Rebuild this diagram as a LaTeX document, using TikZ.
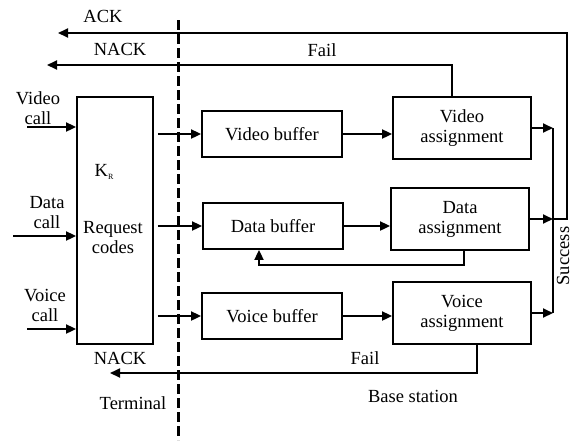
\documentclass[tikz,border=0pt]{standalone}
\usepackage{fontspec}
\setmainfont{Liberation Serif}
\usetikzlibrary{arrows.meta}

\begin{document}
\begin{tikzpicture}[x=0.5pt,y=-0.5pt,
    every node/.style={font=\fontsize{9.25}{10}\selectfont, align=center},
    box/.style={draw, line width=0.9pt, inner sep=0pt},
    bufbox/.style={box, minimum width=70pt, minimum height=23pt},
    asgbox/.style={box, minimum width=69pt, minimum height=31pt},
    arr/.style={line width=0.9pt, -{Triangle[length=5pt,width=4.5pt]}},
    wire/.style={line width=0.9pt}]
    \useasboundingbox (0,0) rectangle (571,440);

    % Terminal / base station border
    \draw[line width=1.5pt, dash pattern=on 5pt off 2pt] (178,20) -- (178,440);

    % Request code block
    \node[box, minimum width=38pt, minimum height=123.5pt] (kr) at (115,220.5) {};
    \node (krlbl) at (104,172) {K\raisebox{-0.35ex}{\fontsize{4}{4}\selectfont R}};
    \node (krtxt) at (113,238) {Request\\codes};

    % Buffers and assignments
    \node[bufbox] (vbuf) at (272,134) {Video buffer};
    \node[bufbox] (dbuf) at (273,226) {Data buffer};
    \node[bufbox] (obuf) at (272,316) {Voice buffer};
    \node[asgbox] (vasg) at (462,128) {Video\\assignment};
    \node[asgbox] (dasg) at (460,219) {Data\\assignment};
    \node[asgbox] (oasg) at (462,313) {Voice\\assignment};

    % Incoming calls
    \coordinate (vin) at (27,127);
    \coordinate (din) at (13,236);
    \coordinate (oin) at (27,329);
    \draw[arr] (vin) -- (vin -| kr.west);
    \draw[arr] (din) -- (din -| kr.west);
    \draw[arr] (oin) -- (oin -| kr.west);
    \node (vcall) at (38,108) {Video\\call};
    \node (dcall) at (47,213) {Data\\call};
    \node (ocall) at (45,305) {Voice\\call};

    % Codes to buffers to assignments
    \draw[arr] ([xshift=2pt]kr.east |- vbuf.west) -- (vbuf.west);
    \draw[arr] ([xshift=2pt]kr.east |- dbuf.west) -- (dbuf.west);
    \draw[arr] ([xshift=2pt]kr.east |- obuf.west) -- (obuf.west);
    \draw[arr] (vbuf.east) -- (vbuf.east -| vasg.west);
    \draw[arr] (dbuf.east) -- (dbuf.east -| dasg.west);
    \draw[arr] (obuf.east) -- (obuf.east -| oasg.west);

    % Success line and ACK
    \coordinate (sx) at (553,0);
    \coordinate (ack) at (58,33);
    \draw[arr] (vasg.east) -- (vasg.east -| sx);
    \draw[arr] (dasg.east) -- (dasg.east -| sx);
    \draw[arr] (oasg.east) -- (oasg.east -| sx);
    \draw[wire] (vasg.east -| sx) -- (oasg.east -| sx);
    \draw[arr] (dasg.east -| sx) -- ++(14,0) |- (ack);
    \node[rotate=90] (succ) at (563,256) {Success};
    \node (acklbl) at (103,16) {ACK};

    % Fail paths
    \coordinate (nackt) at (47,65);
    \coordinate (nackb) at (110,373);
    \draw[arr] ([xshift=-5pt]vasg.north) |- (nackt);
    \draw[arr] ([xshift=2pt]dasg.south) -- ++(0,14) -| ([xshift=-7pt]dbuf.south);
    \draw[arr] ([xshift=7.5pt]oasg.south) |- (nackb);
    \node (nacktl) at (120,49) {NACK};
    \node (failt) at (322,50) {Fail};
    \node (nackbl) at (120,358) {NACK};
    \node (failb) at (365,358) {Fail};

    % Sides
    \node (term) at (133,403) {Terminal};
    \node (base) at (413,396) {Base station};
\end{tikzpicture}
\end{document}
